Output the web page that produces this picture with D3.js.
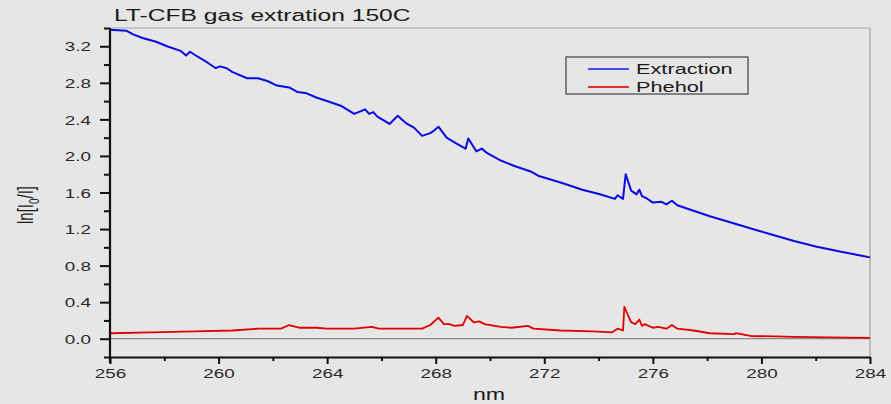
<!DOCTYPE html>
<html>
<head>
<meta charset="utf-8">
<script src="https://cdn.jsdelivr.net/npm/d3@7"></script>
<style>
html,body{margin:0;padding:0;background:#e6e6e6;}
svg{display:block;}
text{font-family:"Liberation Sans",Arial,sans-serif;}
</style>
</head>
<body>
<svg id="chart" width="891" height="404"></svg>
<script>
// ---- data ----
const title = "LT-CFB gas extration 150C";
const xLabel = "nm";
const seriesNames = ["Extraction", "Phehol"];
const xTicks = [256, 260, 264, 268, 272, 276, 280, 284];
const yTicks = [0.0, 0.4, 0.8, 1.2, 1.6, 2.0, 2.4, 2.8, 3.2];

const extraction = [
  [256,3.38],[256.6,3.37],[256.85,3.33],[257.2,3.29],[257.7,3.25],[258.1,3.20],
  [258.6,3.15],[258.8,3.10],[258.95,3.14],[259.1,3.11],[259.6,3.02],[259.9,2.96],
  [260.05,2.98],[260.3,2.96],[260.5,2.92],[261.05,2.85],[261.45,2.85],[261.8,2.82],
  [262.15,2.77],[262.6,2.75],[262.9,2.70],[263.2,2.69],[263.6,2.64],[264.1,2.59],
  [264.5,2.55],[265.0,2.46],[265.4,2.51],[265.55,2.46],[265.7,2.48],[265.85,2.43],
  [266.3,2.35],[266.6,2.44],[266.9,2.36],[267.2,2.31],[267.5,2.22],[267.8,2.25],
  [267.95,2.28],[268.1,2.32],[268.25,2.26],[268.4,2.20],[268.8,2.13],[269.1,2.08],
  [269.2,2.19],[269.35,2.12],[269.5,2.05],[269.7,2.08],[269.9,2.03],[270.4,1.95],
  [270.9,1.89],[271.5,1.83],[271.8,1.78],[272.6,1.71],[273.4,1.63],[274.05,1.58],
  [274.6,1.53],[274.7,1.57],[274.9,1.53],[275.0,1.80],[275.2,1.62],[275.4,1.58],
  [275.5,1.63],[275.6,1.56],[275.75,1.54],[276.0,1.49],[276.3,1.50],[276.5,1.47],
  [276.7,1.51],[276.9,1.46],[277.5,1.40],[278.1,1.34],[279.0,1.26],[279.8,1.19],
  [280.5,1.13],[281.2,1.07],[282.0,1.01],[282.8,0.96],[283.5,0.92],[284,0.89]
];

const phenol = [
  [256,0.06],[257.5,0.07],[259.1,0.08],[260.5,0.09],[261.5,0.11],[262.3,0.11],
  [262.6,0.15],[263.0,0.12],[263.6,0.12],[264.0,0.11],[265.0,0.11],[265.65,0.13],
  [265.9,0.11],[267.0,0.11],[267.5,0.11],[267.8,0.15],[268.1,0.23],[268.3,0.16],
  [268.5,0.16],[268.7,0.14],[269.0,0.15],[269.15,0.25],[269.4,0.18],[269.6,0.19],
  [269.8,0.16],[270.4,0.13],[270.8,0.12],[271.4,0.14],[271.6,0.11],[272.6,0.09],
  [273.8,0.08],[274.5,0.07],[274.7,0.11],[274.9,0.09],[274.95,0.35],[275.2,0.18],
  [275.35,0.16],[275.5,0.21],[275.6,0.14],[275.7,0.16],[276.0,0.12],[276.2,0.13],
  [276.5,0.11],[276.7,0.15],[276.9,0.11],[277.5,0.09],[278.1,0.06],[279.0,0.05],
  [279.05,0.06],[279.6,0.03],[280.5,0.025],[281.2,0.02],[282.5,0.015],[284,0.01]
];

// ---- layout ----
const SX = 1.45; // horizontal text stretch seen in the reference
const L = 110, R = 870, T = 28, B = 357;
const svg = d3.select("#chart");
svg.append("rect").attr("width",891).attr("height",404).attr("fill","#e6e6e6");

const x = d3.scaleLinear().domain([256,284]).range([L,R]);
const y = d3.scaleLinear().domain([-0.2,3.4]).range([B,T]);

// frame (top/right) and zero line
svg.append("line").attr("x1",L).attr("x2",R).attr("y1",T).attr("y2",T)
  .attr("stroke","#a8a8a8").attr("stroke-width",1.2);
svg.append("line").attr("x1",R).attr("x2",R).attr("y1",T).attr("y2",B)
  .attr("stroke","#a0a0a0").attr("stroke-width",1.2);
svg.append("line").attr("x1",L).attr("x2",R).attr("y1",y(0)).attr("y2",y(0))
  .attr("stroke","#8a8a8a").attr("stroke-width",1.2);

// series lines
const line = d3.line().x(d=>x(d[0])).y(d=>y(d[1]));
svg.append("path").datum(phenol).attr("d",line).attr("fill","none")
  .attr("stroke","#e00000").attr("stroke-width",1.8).attr("stroke-linejoin","round");
svg.append("path").datum(extraction).attr("d",line).attr("fill","none")
  .attr("stroke","#0a0ae0").attr("stroke-width",2).attr("stroke-linejoin","round");

// minor ticks
const xMinor = d3.range(258, 284, 4);
const yMinor = [-0.2,0.2,0.6,1.0,1.4,1.8,2.2,2.6,3.0,3.4];
svg.append("g").attr("transform",`translate(0,${B})`)
  .call(d3.axisBottom(x).tickValues(xMinor).tickSize(4).tickFormat(""))
  .call(g=>g.select(".domain").remove())
  .call(g=>g.selectAll("line").attr("stroke","#111").attr("stroke-width",2));
svg.append("g").attr("transform",`translate(${L},0)`)
  .call(d3.axisLeft(y).tickValues(yMinor).tickSize(6).tickFormat(""))
  .call(g=>g.select(".domain").remove())
  .call(g=>g.selectAll("line").attr("stroke","#111").attr("stroke-width",2));

// major axes
const gx = svg.append("g").attr("transform",`translate(0,${B})`)
  .call(d3.axisBottom(x).tickValues(xTicks).tickSize(7).tickSizeOuter(0).tickFormat(d3.format("d")));
gx.select(".domain").attr("stroke","#111").attr("stroke-width",2.2);
gx.selectAll(".tick line").attr("stroke","#111").attr("stroke-width",2);
gx.selectAll("text").attr("y",21).attr("dy",0).attr("x",0)
  .attr("transform",`scale(${SX},1)`).attr("fill","#2a2a2a")
  .style("font-size","13px");

const gy = svg.append("g").attr("transform",`translate(${L},0)`)
  .call(d3.axisLeft(y).tickValues(yTicks).tickSize(10).tickSizeOuter(0).tickFormat(d3.format(".1f")));
gy.select(".domain").attr("stroke","#111").attr("stroke-width",2.2)
  .attr("d",`M0,${T}V${B+6}`);
gy.selectAll(".tick line").attr("stroke","#111").attr("stroke-width",2);
gy.selectAll("text").attr("x",-19/SX).attr("dy","0.36em")
  .attr("transform",`scale(${SX},1)`).attr("fill","#2a2a2a")
  .style("font-size","13px");

// title
svg.append("text").attr("transform",`translate(114,21) scale(${SX},1)`)
  .attr("fill","#1a1a1a").style("font-size","17px").text(title);

// x label
svg.append("text").attr("transform",`translate(489,400) scale(${SX},1)`)
  .attr("text-anchor","middle").attr("fill","#1a1a1a").style("font-size","16px").text(xLabel);

// y label ln[I0/I]
const yl = svg.append("text").attr("transform",`translate(33,205) scale(${SX},1) rotate(-90)`)
  .attr("text-anchor","middle").attr("fill","#1a1a1a").style("font-size","15px");
yl.append("tspan").text("ln[I");
yl.append("tspan").attr("dy",4).style("font-size","10px").text("0");
yl.append("tspan").attr("dy",-4).text("/I]");

// legend
const lg = svg.append("g");
lg.append("rect").attr("x",566).attr("y",57).attr("width",182).attr("height",37)
  .attr("fill","none").attr("stroke","#606060").attr("stroke-width",1.5);
const legColors = ["#4a4aee","#e83030"];
seriesNames.forEach((name,i)=>{
  const yy = 69 + i*18;
  lg.append("line").attr("x1",588).attr("x2",629).attr("y1",yy).attr("y2",yy)
    .attr("stroke",legColors[i]).attr("stroke-width",1.8);
  lg.append("text").attr("transform",`translate(636,${yy+5}) scale(${SX},1)`)
    .attr("fill","#1a1a1a").style("font-size","15px").text(name);
});
</script>
</body>
</html>
